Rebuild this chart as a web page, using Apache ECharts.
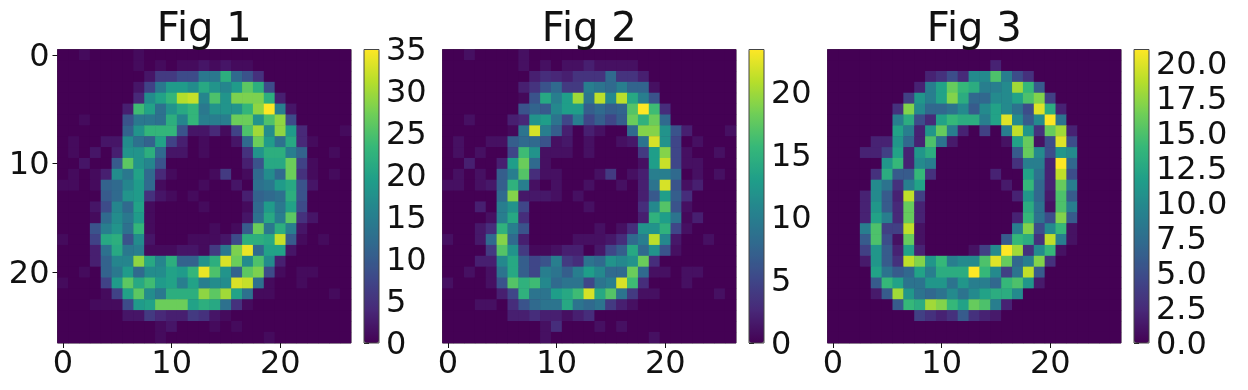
<!DOCTYPE html>
<html>
<head>
<meta charset="utf-8">
<title>Fig 1-3</title>
<script src="https://cdn.jsdelivr.net/npm/echarts@6/dist/echarts.min.js"></script>
<style>
  html, body { margin: 0; padding: 0; background: #fff; }
  #chart { width: 1248px; height: 390px; }
</style>
</head>
<body>
<div id="chart"></div>
<script>
// values, rows top to bottom
const fig1Values = [
  [0,0,1,0,0,0,0,1,0,0,0,0,0,0,0,0,0,0,0,0,0,0,0,0,0,0,0],
  [0,0,0,0,0,0,0,1,0,1,0,1,1,2,1,2,1,1,0,0,0,0,0,0,0,0,0],
  [0,0,0,0,0,0,0,0,2,6,6,8,8,14,14,22,12,9,5,0,0,0,0,0,0,0,0],
  [0,0,0,0,0,0,0,2,7,14,19,19,17,21,18,16,19,26,22,8,0,0,0,0,0,0,0],
  [0,0,0,0,0,0,0,4,17,20,23,31,32,16,25,18,28,28,28,22,3,0,0,0,0,0,0],
  [0,0,0,0,0,0,3,24,20,13,18,21,23,14,18,18,18,23,29,35,15,2,0,0,0,0,0],
  [0,0,1,0,0,0,9,14,14,13,22,16,23,15,15,15,27,27,18,25,29,8,0,0,0,0,0],
  [0,0,0,0,0,0,11,18,23,23,23,9,2,2,4,1,7,25,30,17,29,19,4,0,0,0,1],
  [0,1,0,0,2,2,17,13,11,20,7,3,0,1,0,0,2,12,27,19,13,21,4,1,0,0,0],
  [0,1,0,2,0,3,18,18,22,12,2,2,0,1,0,0,0,5,18,22,22,15,11,0,0,1,0],
  [0,0,2,0,0,10,26,18,16,9,0,0,0,0,0,0,0,3,9,21,21,27,7,1,0,0,0],
  [0,1,0,1,3,17,14,20,12,4,1,0,0,0,1,6,0,1,12,17,12,27,5,1,0,1,0],
  [1,1,0,1,11,12,16,19,12,1,0,0,0,1,0,0,2,0,13,14,19,21,9,2,0,0,0],
  [0,0,0,0,10,12,18,19,5,2,1,0,1,0,0,0,0,3,11,12,13,22,9,0,0,0,0],
  [0,0,0,2,8,16,12,20,1,0,0,0,0,1,0,0,0,1,12,19,14,20,8,0,0,0,0],
  [0,0,0,1,12,17,14,19,1,0,0,0,0,0,0,0,0,2,13,21,15,26,5,2,0,0,0],
  [0,0,0,9,15,18,13,23,1,0,0,0,0,0,1,0,1,10,27,14,22,15,2,0,0,0,0],
  [1,0,0,7,21,22,9,17,2,0,0,0,1,1,1,2,8,22,22,21,32,10,1,0,1,0,0],
  [0,0,0,3,13,21,14,15,1,1,1,2,2,1,6,14,28,34,12,20,20,2,0,0,0,0,0],
  [0,0,0,3,11,16,16,29,21,16,22,11,11,18,22,33,27,17,25,17,3,0,0,0,0,0,0],
  [0,0,1,0,11,14,19,12,17,17,20,19,23,34,25,18,11,26,28,8,1,0,1,1,0,0,0],
  [1,0,0,0,7,19,26,21,24,19,20,15,20,15,17,17,33,32,13,1,0,0,1,0,0,0,0],
  [0,0,0,0,1,7,20,26,17,14,22,22,22,29,26,30,20,13,1,1,0,0,0,0,0,1,0],
  [0,0,0,1,1,1,8,19,20,27,27,27,20,22,21,13,5,1,0,0,0,0,0,0,0,0,0],
  [0,0,0,0,0,0,2,2,6,4,3,3,6,5,2,1,0,0,0,0,0,0,0,0,0,0,0],
  [0,0,0,0,0,0,0,0,0,1,2,0,0,0,1,0,1,0,0,0,0,0,0,0,0,0,0],
  [0,0,0,0,0,0,0,0,0,1,0,0,0,0,0,0,0,0,0,1,0,0,0,0,0,0,0]
]
const fig2Values = [
  [0,0,1,0,0,0,0,1,0,0,0,0,0,0,0,0,0,0,0,0,0,0,0,0,0,0,0],
  [0,0,0,0,0,0,0,1,0,1,0,1,1,2,1,1,1,1,0,0,0,0,0,0,0,0,0],
  [0,0,0,0,0,0,0,0,2,3,2.5,2,3.5,3.5,3.5,8,3.5,3.5,2,0,0,0,0,0,0,0,0],
  [0,0,0,0,0,0,0,2,3.5,6,8,4,4,10,9,8,10,7.5,7.5,1,0,0,0,0,0,0,0],
  [0,0,0,0,0,0,0,0.5,6,14,10,13,20,9,21,11,21,14,10,6,0,0,0,0,0,0,0],
  [0,0,0,0,0,0,0,6,7.5,6.5,11,13,13,7,8,7,7.5,17,23.4,16,3,0,0,0,0,0,0],
  [0,0,1,0,0,0,2,2.5,12,13,9,5,10,5,7,5,7,18,15,18,8,0,0,0,0,0,0],
  [0,0,0,0,0,0,0.5,9,22,10,7,2,0,2,1,0,0,8,19,19,12,6,2,0,0,0,1],
  [0,1,0,0,1,1,7,8,8,6,1,1.5,0,1,0,0,1,1.5,9,22,12,5,0,1,0,0,0],
  [0,1,0,1,0,0,5,16,12,1,1,1,0,1,0,0,0,0,4,13,19,5,1,0,0,1,0],
  [0,0,2,0,0,2,13,18,8,1,0,0,0,0,0,0,0,0,1,13,21.5,5,1,1,0,0,0],
  [0,1,0,1,0,7,10,17,3,1,1,0,0,0,1,4,0,1,2,10,10,8,0,1,0,1,0],
  [1,1,0,1,1.5,7,15,10,1,0,1,0,0,1,0,0,1,0,2,9,22,6,1,2,0,0,0],
  [0,0,0,0,0,8,19,1.5,1.5,1.5,1,0,1,0,0,0,0,0,2,6.5,13,7,3,0,0,0,0],
  [0,0,0,2,0,10,12,5,0,0,0,0,0,1,0,0,0,0,3,11,17,6,1,0,0,0,0],
  [0,0,0,0,1,10,14,3,0,0,0,0,0,0,0,0,0,0,2,15,13,9,0.5,2,0,0,0],
  [0,0,0,1.5,3,15,10,6,0,0,0,0,0,0,1,0,1,3,12,12,15,5,1,0,0,0,0],
  [1,0,0,1.5,8,19,8,2,0,0,0,0,1,1,1,1.5,3,8,10,21,11,1.5,0,0,1,0,0],
  [0,0,0,0,4,17,12,4,0.5,0.5,1,2,2,0,1.5,5,7,14,8,12,6,1,0,0,0,0,0],
  [0,0,0,2,2,11,14,7,5,6,10,4,3,9,8,12,11,12,18,3,0,0,0,0,0,0,0],
  [0,0,1,0,1,9,14,7,5,10,9,7,10,13,11,8,8,18,8,1,1,0,1,1,0,0,0],
  [1,0,0,0,1,6,17,15,16,11,8,9,9,5,9,10,22,16,3,0,0,0,1,0,0,0,0],
  [0,0,0,0,0,2,5,15,9,9,13,14,16,22,14,17,9,4,1,1,0,0,0,0,0,1,0],
  [0,0,0,1,1,0,3,6,8,9,9,14,9,8,9,4,2,1,0,0,0,0,0,0,0,0,0],
  [0,0,0,0,0,0,2,2,3,2,2,1,2,3,0,0,0,0,0,0,0,0,0,0,0,0,0],
  [0,0,0,0,0,0,0,0,0,1,3,0,0,0,1,0,1,0,0,0,0,0,0,0,0,0,0],
  [0,0,0,0,0,0,0,0,0,1,0,0,0,0,0,0,0,0,0,1,0,0,0,0,0,0,0]
]
const fig3Values = [
  [0,0,0,0,0,0,0,0,0,0,0,0,0,0,0,0,0,0,0,0,0,0,0,0,0,0,0],
  [0,0,0,0,0,0,0,0,0,0,0,0,0,0,0,2,0,0,0,0,0,0,0,0,0,0,0],
  [0,0,0,0,0,0,0,0,0,2,3,5,2.5,10,10,15,9,5,3,0,0,0,0,0,0,0,0],
  [0,0,0,0,0,0,0,0,2,9,12,16,14,13,9,9,10,18,14,6,0,0,0,0,0,0,0],
  [0,0,0,0,0,0,0,4,11,9,12,17,13,7,7,10,10,12,15,17,4,0,0,0,0,0,0],
  [0,0,0,0,0,0,3,17,10,7,7,8,10,6,10,12,10,8,5,20,13,2,0,0,0,0,0],
  [0,0,0,0,0,0,9,13,5,2.5,12,14,13,13,9,12,20,10,6,10,21,8,0,0,0,0,0],
  [0,0,0,0,0,0,12,9,2,11,16,9,2,0,4,0,9,19,11,3,16,18,2,0,0,0,0],
  [0,0,0,0,2,2,11,7,2,15,8,1.5,0,0,0,0,1,12,16,1,5,20,5,0,0,0,0],
  [0,0,0,2,2,4,12,2,11,13,0,0,0,0,0,0,0,6,16,10,5,11,10,0,0,0,0],
  [0,0,0,0,0,11,14,2,10,9,0,0,0,0,0,0,0,3,9,9,2,21,7,0,0,0,0],
  [0,0,0,0,3,13,6,6,14,3,0,0,0,0,0,2,0,0,12,8,2,19,5,0,0,0,0],
  [0,0,0,0,10,8,3,9,12,0,0,0,0,0,0,0,1.5,0,14,7,2,16,9,0,0,0,0],
  [0,0,0,2,10,6,2,19,4,0,0,0,0,0,0,0,0,2,11,7,1.5,15,6,0,0,0,0],
  [0,0,0,2,11,6,2.5,16,2,0,0,0,0,0,0,0,0,0,13,8,1,15,9,0,0,0,0],
  [0,0,0,2,12,9,2.5,16,2,0,0,0,0,0,0,0,0,2,14,8,5,17,6,0,0,0,0],
  [0,0,0,9,15,4,4,19,1,0,0,0,0,0,0,0,0,9,17,5,10,14,1,0,0,0,0],
  [0,0,0,6,15,5,1,16,1,0,0,0,0,0,0,0,6,14,13,3,19,9,1,0,0,0,0],
  [0,0,0,4,11,6,2,12,2,0,0,0,0,1,4,10,21,18,3,10,14,1,0,0,0,0,0],
  [0,0,0,1.5,11,6,3,19,17,11,14,9,10,10,15,20,16,7,9,17,3,0,0,0,0,0,0],
  [0,0,0,0,12,8,6,7,12,9,13,13,13,21,14,10,4,8,19,6,0,0,0,0,0,0,0],
  [0,0,0,0,6,14,12,8,8,11,11,8,11,9,9,7,14,15,11,1.5,0,0,0,0,0,0,0],
  [0,0,0,0,1.5,6,18,11,8,7,8,10,8,10,12,13,13,10,0,0,0,0,0,0,0,0,0],
  [0,0,0,0,0,0,6,14,13,18,17,14,12,16,15,9,2,0,0,0,0,0,0,0,0,0,0],
  [0,0,0,0,0,0,0,0,4,3,2,3,6,3,2,1.5,0,0,0,0,0,0,0,0,0,0,0],
  [0,0,0,0,0,0,0,0,0,0,0,0,0,0,0,0,0,0,0,0,0,0,0,0,0,0,0],
  [0,0,0,0,0,0,0,0,0,0,0,0,0,0,0,0,0,0,0,0,0,0,0,0,0,0,0]
]
const figTitles = ['Fig 1', 'Fig 2', 'Fig 3']
const figValues = [fig1Values, fig2Values, fig3Values]
const barMax = [35, 23.4, 21]
const barStep = [5, 5, 2.5]
const barDecimals = [0, 0, 1]
const cellIndex = Array.from({ length: 27 }, (_, i) => String(i))
const viridis = ['#440154', '#482878', '#3e4989', '#31688e', '#26828e', '#1f9e89', '#35b779', '#6ece58', '#b5de2b', '#fde725']

// panel positions in px
const panelLeft = [57.5, 442.5, 827.5]
const panelTop = 49.5
const panelSize = 293.5
const barLeft = [364, 749, 1134]
const barWidth = 15

const textFont = 'DejaVu Sans'
const inkColor = '#111'
const fontSize = 32

// y labels sit a little under their ticks in the reference
const shiftedLabel = {
  n: { padding: [5, 0, 0, 0], color: inkColor, fontFamily: textFont, fontSize: fontSize }
}

const titles = []
const grids = []
const xAxes = []
const yAxes = []
const series = []
const visualMaps = []

figValues.forEach((rows, f) => {
  titles.push({
    text: figTitles[f],
    left: panelLeft[f] + panelSize / 2,
    top: 11,
    textAlign: 'center',
    padding: 0,
    textStyle: { color: inkColor, fontFamily: textFont, fontSize: 40, fontWeight: 'normal' }
  })

  // heatmap panel, dark backing so no light seams show between cells
  grids.push({
    left: panelLeft[f], top: panelTop, width: panelSize, height: panelSize,
    show: true, backgroundColor: viridis[0], borderColor: '#444', borderWidth: 1
  })
  xAxes.push({
    type: 'category',
    gridIndex: f * 2,
    data: cellIndex,
    splitLine: { show: false },
    axisLine: { show: false },
    axisTick: { show: true, alignWithLabel: true, interval: 9, length: 5, lineStyle: { color: inkColor } },
    axisLabel: { show: true, interval: 9, margin: 6, color: inkColor, fontFamily: textFont, fontSize: fontSize }
  })
  yAxes.push({
    type: 'category',
    gridIndex: f * 2,
    inverse: true,
    data: cellIndex,
    splitLine: { show: false },
    axisLine: { show: false },
    axisTick: { show: f === 0, alignWithLabel: true, interval: 9, length: 5, lineStyle: { color: inkColor } },
    axisLabel: {
      show: f === 0,
      interval: 9,
      margin: 8,
      fontFamily: textFont,
      fontSize: fontSize,
      formatter: v => '{n|' + v + '}',
      rich: shiftedLabel
    }
  })
  const data = []
  rows.forEach((row, y) => row.forEach((v, x) => data.push([x, y, v])))
  series.push({
    type: 'heatmap',
    xAxisIndex: f * 2,
    yAxisIndex: f * 2,
    data: data,
    silent: true,
    progressive: 0,
    itemStyle: { borderWidth: 0 }
  })

  // colorbar: gradient from visualMap, ticks from a value axis over it
  visualMaps.push({
    type: 'continuous',
    seriesIndex: f,
    min: 0,
    max: barMax[f],
    left: barLeft[f],
    top: panelTop,
    padding: 0,
    itemWidth: barWidth,
    itemHeight: panelSize,
    text: null,
    calculable: false,
    realtime: false,
    showLabel: false,
    inRange: { color: viridis }
  })
  grids.push({
    left: barLeft[f], top: panelTop, width: barWidth, height: panelSize,
    show: true, z: 5, backgroundColor: 'transparent', borderColor: '#444', borderWidth: 1
  })
  xAxes.push({
    type: 'value', gridIndex: f * 2 + 1, min: 0, max: 1,
    axisLine: { show: false }, axisTick: { show: false }, axisLabel: { show: false }, splitLine: { show: false }
  })
  yAxes.push({
    type: 'value',
    gridIndex: f * 2 + 1,
    position: 'right',
    min: 0,
    max: barMax[f],
    interval: barStep[f],
    splitLine: { show: false },
    axisLine: { show: false },
    axisTick: { show: true, length: 5, lineStyle: { color: inkColor } },
    axisLabel: {
      show: true,
      margin: 7,
      showMaxLabel: barMax[f] % barStep[f] === 0,
      hideOverlap: false,
      fontFamily: textFont,
      fontSize: fontSize,
      formatter: v => '{n|' + Number(v).toFixed(barDecimals[f]) + '}',
      rich: shiftedLabel
    }
  })
})

const chart = echarts.init(document.getElementById('chart'), null, { renderer: 'canvas' })
chart.setOption({
  animation: false,
  backgroundColor: '#fff',
  tooltip: { show: false },
  title: titles,
  grid: grids,
  xAxis: xAxes,
  yAxis: yAxes,
  visualMap: visualMaps,
  series: series
})
</script>
</body>
</html>
